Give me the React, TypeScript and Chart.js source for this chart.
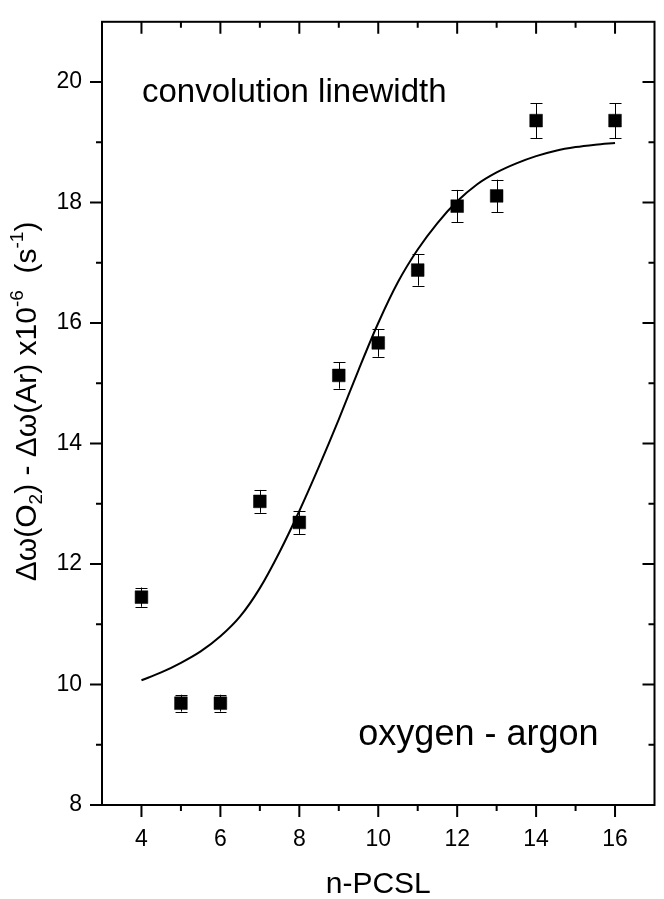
import React, { useEffect, useRef } from "react";
import { Chart, registerables } from "chart.js";

Chart.register(...registerables);

// ---- data ----
const pointX = [4, 5, 6, 7, 8, 9, 10, 11, 12, 13, 14, 16];
const pointY = [11.45, 9.69, 9.69, 13.04, 12.69, 15.13, 15.67, 16.88, 17.94, 18.11, 19.36, 19.36];
const pointErr = [0.16, 0.14, 0.14, 0.19, 0.19, 0.22, 0.23, 0.26, 0.27, 0.27, 0.29, 0.29];

const fitX = [4, 4.5, 5, 5.5, 6, 6.5, 7, 7.5, 8, 8.5, 9, 9.5, 10, 10.5, 11, 11.5, 12, 12.5, 13, 13.5, 14, 14.5, 15, 15.5, 16];
const fitY = [10.07, 10.2, 10.36, 10.55, 10.8, 11.13, 11.6, 12.2, 12.88, 13.62, 14.4, 15.22, 16.0, 16.68, 17.22, 17.66, 18.02, 18.3, 18.5, 18.65, 18.77, 18.86, 18.92, 18.96, 18.99];

const xTicks = [4, 6, 8, 10, 12, 14, 16];
const xMinorTicks = [5, 7, 9, 11, 13, 15];
const yTicks = [8, 10, 12, 14, 16, 18, 20];
const yMinorTicks = [9, 11, 13, 15, 17, 19];

const xTitle = "n-PCSL";
const annotTop = "convolution linewidth";
const annotBottom = "oxygen - argon";

const FONT = "'Liberation Sans', Arial, Helvetica, sans-serif";

const decorPlugin = {
  id: "decor",
  afterDraw(chart: any) {
    const ctx = chart.ctx as CanvasRenderingContext2D;
    const xs = chart.scales.x;
    const ys = chart.scales.y;
    const { left, right, top, bottom } = chart.chartArea;
    ctx.save();

    // error bars
    ctx.strokeStyle = "#000";
    ctx.lineWidth = 1;
    for (let i = 0; i < pointX.length; i++) {
      const px = Math.round(xs.getPixelForValue(pointX[i])) + 0.5;
      const y1 = ys.getPixelForValue(pointY[i] + pointErr[i]);
      const y2 = ys.getPixelForValue(pointY[i] - pointErr[i]);
      ctx.beginPath();
      ctx.moveTo(px, y1);
      ctx.lineTo(px, y2);
      ctx.moveTo(px - 6, Math.round(y1) + 0.5);
      ctx.lineTo(px + 6, Math.round(y1) + 0.5);
      ctx.moveTo(px - 6, Math.round(y2) + 0.5);
      ctx.lineTo(px + 6, Math.round(y2) + 0.5);
      ctx.stroke();
    }

    // frame
    ctx.lineWidth = 2;
    ctx.strokeRect(left, top, right - left, bottom - top);

    // ticks
    ctx.beginPath();
    const major = 12;
    const minor = 6;
    for (const v of xTicks) {
      const p = xs.getPixelForValue(v);
      ctx.moveTo(p, bottom); ctx.lineTo(p, bottom + major);
      ctx.moveTo(p, top); ctx.lineTo(p, top + major);
    }
    for (const v of xMinorTicks) {
      const p = xs.getPixelForValue(v);
      ctx.moveTo(p, bottom); ctx.lineTo(p, bottom + minor);
      ctx.moveTo(p, top); ctx.lineTo(p, top + minor);
    }
    for (const v of yTicks) {
      const p = ys.getPixelForValue(v);
      ctx.moveTo(left, p); ctx.lineTo(left - major, p);
      ctx.moveTo(right, p); ctx.lineTo(right - major, p);
    }
    for (const v of yMinorTicks) {
      const p = ys.getPixelForValue(v);
      ctx.moveTo(left, p); ctx.lineTo(left - minor, p);
      ctx.moveTo(right, p); ctx.lineTo(right - minor, p);
    }
    ctx.stroke();

    // annotations
    ctx.fillStyle = "#000";
    ctx.textBaseline = "alphabetic";
    ctx.font = `33px ${FONT}`;
    ctx.textAlign = "left";
    ctx.fillText(annotTop, left + 40, top + 80);
    ctx.font = `36px ${FONT}`;
    ctx.textAlign = "right";
    ctx.fillText(annotBottom, right - 56, bottom - 60);

    // x title
    ctx.font = `30px ${FONT}`;
    ctx.textAlign = "center";
    ctx.fillText(xTitle, (left + right) / 2, 893);

    // y title with sub/superscripts
    const big = 30;
    const small = 19;
    const parts: { t: string; s: number; dy: number }[] = [
      { t: "\u0394\u03c9(O", s: big, dy: 0 },
      { t: "2", s: small, dy: 6 },
      { t: ") - \u0394\u03c9(Ar) x10", s: big, dy: 0 },
      { t: "-6", s: small, dy: -13 },
      { t: "  (s", s: big, dy: 0 },
      { t: "-1", s: small, dy: -13 },
      { t: ")", s: big, dy: 0 },
    ];
    let total = 0;
    for (const p of parts) {
      ctx.font = `${p.s}px ${FONT}`;
      total += ctx.measureText(p.t).width;
    }
    ctx.translate(36, (top + bottom) / 2 - 12);
    ctx.rotate(-Math.PI / 2);
    ctx.textAlign = "left";
    let cx = -total / 2;
    for (const p of parts) {
      ctx.font = `${p.s}px ${FONT}`;
      ctx.fillText(p.t, cx, p.dy);
      cx += ctx.measureText(p.t).width;
    }
    ctx.restore();
  },
};

export default function App() {
  const ref = useRef<HTMLCanvasElement | null>(null);
  useEffect(() => {
    document.body.style.margin = "0";
    const canvas = ref.current!;
    const chart = new Chart(canvas, {
      type: "scatter",
      data: {
        datasets: [
          {
            type: "line",
            data: fitX.map((x, i) => ({ x, y: fitY[i] })),
            borderColor: "#000",
            borderWidth: 2,
            pointRadius: 0,
            cubicInterpolationMode: "monotone",
            fill: false,
          } as any,
          {
            type: "scatter",
            data: pointX.map((x, i) => ({ x, y: pointY[i] })),
            pointStyle: "rect",
            pointRadius: 9,
            borderWidth: 0.5,
            backgroundColor: "#000",
            borderColor: "#000",
          } as any,
        ],
      },
      options: {
        animation: false,
        responsive: false,
        maintainAspectRatio: false,
        events: [],
        layout: { padding: { left: 0, top: 5, right: 6, bottom: 0 } },
        plugins: { legend: { display: false }, tooltip: { enabled: false } },
        scales: {
          x: {
            type: "linear",
            min: 3,
            max: 17,
            afterBuildTicks: (s: any) => {
              s.ticks = xTicks.map((v) => ({ value: v }));
            },
            afterFit: (s: any) => {
              s.height = 94;
            },
            grid: { display: false, drawTicks: true, tickLength: 13 },
            border: { display: false },
            ticks: {
              color: "#000",
              padding: 8,
              font: { family: FONT, size: 23 },
              maxRotation: 0,
              autoSkip: false,
            },
          },
          y: {
            type: "linear",
            min: 8,
            max: 21,
            afterBuildTicks: (s: any) => {
              s.ticks = yTicks.map((v) => ({ value: v }));
            },
            afterFit: (s: any) => {
              s.width = 102;
            },
            grid: { display: false, drawTicks: true, tickLength: 12 },
            border: { display: false },
            ticks: {
              color: "#000",
              padding: 8,
              font: { family: FONT, size: 23 },
              autoSkip: false,
            },
          },
        },
      },
      plugins: [decorPlugin],
    });
    return () => chart.destroy();
  }, []);
  return (
    <div style={{ width: 664, height: 899, background: "#fff" }}>
      <canvas ref={ref} width={664} height={899} style={{ display: "block" }} />
    </div>
  );
}
